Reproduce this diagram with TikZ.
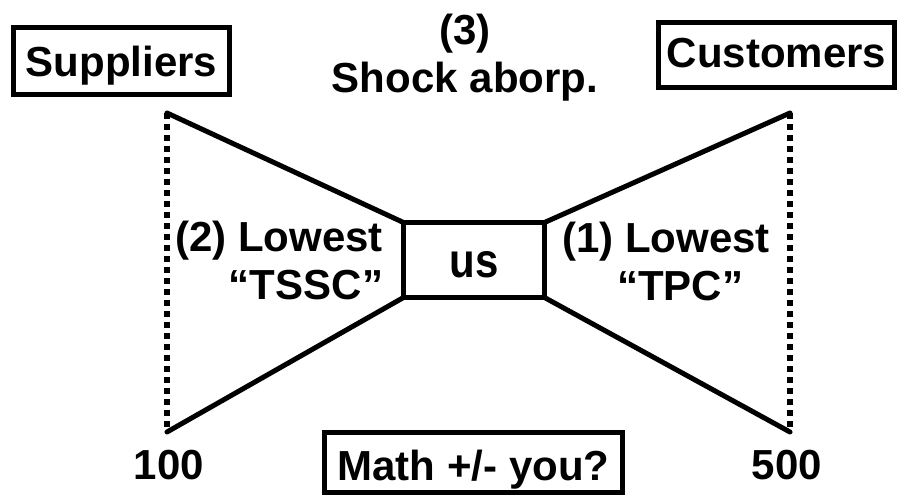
\documentclass[tikz,border=0pt]{standalone}
\usepackage{fontspec}
\usepackage{graphicx}
\setmainfont{Liberation Sans}
\begin{document}
\begin{tikzpicture}[x=1pt,y=-1pt,
  every node/.style={font=\fontsize{42pt}{48pt}\selectfont\bfseries, inner sep=0pt, outer sep=0pt},
  box/.style={draw, line width=5pt},
  edge/.style={line width=5pt, line cap=round, line join=round},
  dots/.style={line width=6pt, dash pattern=on 5.5pt off 5.5pt}]
\useasboundingbox (0,0) rectangle (900,496);
% boxes
\node[box, minimum width=216pt, minimum height=67pt, text height=32pt, text depth=2pt] (sup) at (121.5,61) {Suppliers};
\node[box, minimum width=236pt, minimum height=65pt, text height=30pt, text depth=6pt] (cust) at (776.5,55) {Customers};
\node[box, minimum width=298pt, minimum height=60pt, text height=36pt, text depth=1pt] (math) at (473.5,462.5) {Math +/- you?};
\node[box, minimum width=141pt, minimum height=75pt, text height=34pt, text depth=0pt] (us) at (474,260) {\scalebox{1}[1.15]{us}};
% bow tie corners
\coordinate (lt) at (167,113);
\coordinate (lb) at (167,432);
\coordinate (rt) at (790,113);
\coordinate (rb) at (790,432);
\draw[edge] (lt) -- (us.north west);
\draw[edge] (lb) -- (us.south west);
\draw[edge] (rt) -- (us.north east);
\draw[edge] (rb) -- (us.south east);
\draw[dots] (lt) -- (lb);
\draw[dots] (rt) -- (rb);
% labels
\node[align=center, anchor=base] (shock) at (465,92) {(3)\\Shock aborp.};
\node[align=right, anchor=base east] (tssc) at (383,299) {(2) Lowest\\“TSSC”};
\node[align=center, anchor=base] (tpc) at (666,300) {(1) Lowest\\\hspace*{28pt}“TPC”};
\node[anchor=base] (n100) at (169,479) {100};
\node[anchor=base] (n500) at (787,479) {500};
\end{tikzpicture}
\end{document}
